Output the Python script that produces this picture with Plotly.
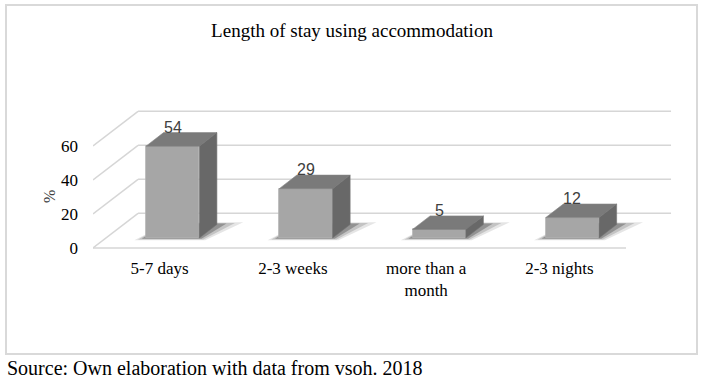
import plotly.graph_objects as go

# ---- data ----
categories = ["5-7 days", "2-3 weeks", "more than a<br>month", "2-3 nights"]
values = [54, 29, 5, 12]
y_ticks = [0, 20, 40, 60]
title_text = "Length of stay using accommodation"
y_title = "%"
source_text = "Source: Own elaboration with data from vsoh. 2018"

# ---- layout geometry (pixels) ----
W, H = 706, 383
L, R, T, B = 93, 680, 100, 250
FLOOR_PX = 248            # pixel row of value 0 on the front plane
X_UNIT_PX = 133.25        # pixels per category
Y_UNIT_PX = 1.7           # pixels per value unit

x0r = -0.5
x1r = x0r + (R - L) / X_UNIT_PX
y0r = -(B - FLOOR_PX) / Y_UNIT_PX
y1r = (FLOOR_PX - T) / Y_UNIT_PX

# 3D depth (in axis units)
WALL_DX = 0.338
WALL_DY = 20.4
BAR_FRONT = 0.29          # depth fraction of bar front face
BAR_DEPTH = 0.39          # depth fraction of bar thickness
BAR_W = 0.4

bx = BAR_FRONT * WALL_DX
by = BAR_FRONT * WALL_DY
ddx = BAR_DEPTH * WALL_DX
ddy = BAR_DEPTH * WALL_DY

xs = list(range(len(categories)))
bar_x = [i + bx for i in xs]

GRID = "#d6d6d6"
FRONT = "#a6a6a6"
TOP = "#7a7a7a"
SIDE = "#686868"
SERIF = "Liberation Serif, Times New Roman, serif"

fig = go.Figure()
fig.add_trace(go.Bar(
    x=bar_x, y=values, base=[by] * len(values), width=BAR_W,
    marker=dict(color=FRONT, line=dict(color="#b4b4b4", width=0.8)),
    hoverinfo="skip", showlegend=False,
))

shapes = []
# walls: side diagonals + back lines
last_front = len(categories) - 0.5
for v in y_ticks:
    shapes.append(dict(type="line", xref="x", yref="y", layer="below",
                       x0=x0r, y0=v, x1=x0r + WALL_DX, y1=v + WALL_DY,
                       line=dict(color=GRID, width=1.5)))
    shapes.append(dict(type="line", xref="x", yref="y", layer="below",
                       x0=x0r + WALL_DX, y0=v + WALL_DY, x1=last_front + WALL_DX, y1=v + WALL_DY,
                       line=dict(color=GRID, width=1.5)))
# front floor edge
shapes.append(dict(type="line", xref="x", yref="y", layer="below",
                   x0=x0r, y0=0, x1=last_front, y1=0,
                   line=dict(color=GRID, width=1.5)))

def poly(pts):
    return "M " + " L ".join(f"{a},{b}" for a, b in pts) + " Z"

# shadows (soft, layered)
for cx in bar_x:
    xa, xb = cx - BAR_W / 2, cx + BAR_W / 2
    for k, op in [(2.2, 0.10), (1.5, 0.15), (0.8, 0.25)]:
        pts = [(xa - 0.04 * k, by - 0.6 * k),
               (xb + 0.02 * k, by - 0.6 * k),
               (xb + ddx + 0.09 * k, by + ddy + 0.6 * k),
               (xa + ddx + 0.02 * k, by + ddy + 0.6 * k)]
        shapes.append(dict(type="path", xref="x", yref="y", layer="below",
                           path=poly(pts), fillcolor=f"rgba(0,0,0,{op})",
                           line=dict(width=0)))

# bar top and side faces
for cx, v in zip(bar_x, values):
    xa, xb = cx - BAR_W / 2, cx + BAR_W / 2
    top = by + v
    shapes.append(dict(type="path", xref="x", yref="y", layer="above",
                       path=poly([(xa, top), (xb, top), (xb + ddx, top + ddy), (xa + ddx, top + ddy)]),
                       fillcolor=TOP, line=dict(color="#858585", width=0.6)))
    shapes.append(dict(type="path", xref="x", yref="y", layer="above",
                       path=poly([(xb, by), (xb, top), (xb + ddx, top + ddy), (xb + ddx, by + ddy)]),
                       fillcolor=SIDE, line=dict(color="#747474", width=0.6)))

# border around chart (paper coords from pixels)
def px2paper_x(p):
    return (p - L) / (R - L)

def px2paper_y(p):
    return (B - p) / (B - T)

shapes.append(dict(type="rect", xref="paper", yref="paper",
                   x0=px2paper_x(6), x1=px2paper_x(697), y0=px2paper_y(354), y1=px2paper_y(5),
                   line=dict(color="#d9d9d9", width=2), fillcolor="rgba(0,0,0,0)"))

annotations = []
for cx, v in zip(bar_x, values):
    annotations.append(dict(x=cx, y=by + v + ddy, xref="x", yref="y", text=str(v),
                            showarrow=False, yanchor="bottom", yshift=-5,
                            font=dict(family="Liberation Sans", size=16, color="#404040")))
annotations.append(dict(x=px2paper_x(5), y=px2paper_y(368), xref="paper", yref="paper",
                        text=source_text, showarrow=False, xanchor="left", yanchor="middle",
                        font=dict(family=SERIF, size=20, color="#000000")))
annotations.append(dict(x=px2paper_x(49), y=px2paper_y(197), xref="paper", yref="paper",
                        text=y_title, showarrow=False, textangle=-90,
                        xanchor="center", yanchor="middle",
                        font=dict(family=SERIF, size=16, color="#404040")))

fig.update_layout(
    width=W, height=H,
    margin=dict(l=L, r=W - R, t=T, b=H - B, pad=0),
    paper_bgcolor="white", plot_bgcolor="rgba(0,0,0,0)",
    title=dict(text=title_text, x=352 / W, xanchor="center", y=1 - 30 / H, yanchor="middle",
               font=dict(family=SERIF, size=19, color="#000000")),
    xaxis=dict(range=[x0r, x1r], tickvals=xs, ticktext=categories, showgrid=False,
               zeroline=False, showline=False, ticks="", ticklabelstandoff=6,
               tickfont=dict(family=SERIF, size=17, color="#000000"), fixedrange=True),
    yaxis=dict(range=[y0r, y1r], tickvals=y_ticks, showgrid=False, zeroline=False,
               showline=False, ticks="", ticklabelstandoff=14,
               tickfont=dict(family=SERIF, size=17, color="#000000"),
               fixedrange=True),
    shapes=shapes, annotations=annotations,
    bargap=0, showlegend=False,
)

fig.write_html("out.html", config={"displayModeBar": False},
               post_script="document.body.style.margin='0';document.body.style.padding='0';")
